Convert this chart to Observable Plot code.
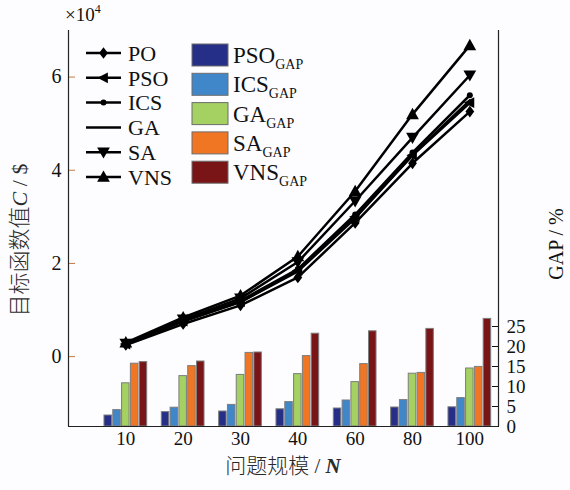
<!DOCTYPE html>
<html>
<head>
<meta charset="utf-8">
<script src="https://cdn.jsdelivr.net/npm/d3@7"></script>
<script src="https://cdn.jsdelivr.net/npm/@observablehq/plot@0.6"></script>
<style>
  html, body { margin: 0; padding: 0; background: #fdfdff; }
  #chart { width: 570px; height: 490px; }
</style>
</head>
<body>
<div id="chart"></div>
<script>
// ---- data ----
const sizes = ["10", "20", "30", "40", "60", "80", "100"];
const seriesNames = ["PO", "PSO", "ICS", "GA", "SA", "VNS"];
const PO  = [2500, 7000, 11000, 17000, 28700, 41500, 52600];
const PSO = [2700, 7600, 11800, 18500, 30000, 43200, 54500];
const ICS = [2800, 7800, 12000, 18800, 30500, 43800, 56100];
const GA  = [2700, 7600, 11700, 18300, 29700, 43300, 55000];
const SA  = [2800, 8000, 12500, 20300, 33400, 47000, 60400];
const VNS = [3000, 8400, 13100, 21500, 35500, 52000, 66800];

const gapNames = ["PSO", "ICS", "GA", "SA", "VNS"];
const PSO_GAP = [2.75, 3.6, 3.75, 4.3, 4.5, 4.75, 4.8];
const ICS_GAP = [4.1, 4.7, 5.4, 6.1, 6.5, 6.6, 7.1];
const GA_GAP  = [10.8, 12.6, 12.9, 13.1, 11.1, 13.2, 14.5];
const SA_GAP  = [15.7, 15.1, 18.4, 17.6, 15.6, 13.4, 14.9];
const VNS_GAP = [16.1, 16.25, 18.5, 23.2, 23.8, 24.4, 26.9];
const gapColors = ["#262f88", "#3f87c9", "#a5d062", "#f07623", "#7a1517"];

const leftTicks = [0, 20000, 40000, 60000];
const gapTicks = [0, 5, 10, 15, 20, 25];

// ---- scales set-up ----
const yMin = -15000, yMax = 70000, gapMax = 99;
const xMin = -1, xMax = 6.5;
const gapToY = g => yMin + g * (yMax - yMin) / gapMax;
const yToGap = y => Math.round((y - yMin) * gapMax / (yMax - yMin));

const lineSeries = [PO, PSO, ICS, GA, SA, VNS];
const lineData = [];
seriesNames.forEach((s, k) => lineSeries[k].forEach((v, i) => lineData.push({s, i, v})));

const gapSeries = [PSO_GAP, ICS_GAP, GA_GAP, SA_GAP, VNS_GAP];
const pitch = 0.1535, bw = 0.131;
const barData = [];
gapNames.forEach((s, j) => gapSeries[j].forEach((g, i) => barData.push({
  s, j, i, g,
  x1: i + (j - 2) * pitch - bw / 2,
  x2: i + (j - 2) * pitch + bw / 2
})));

// ---- custom symbols ----
function poly(pts) {
  return {draw(ctx, size) {
    const s = Math.sqrt(size);
    ctx.moveTo(pts[0][0] * s, pts[0][1] * s);
    for (let k = 1; k < pts.length; ++k) ctx.lineTo(pts[k][0] * s, pts[k][1] * s);
    ctx.closePath();
  }};
}
const symbols = {
  PO:  poly([[0, -0.6], [0.45, 0], [0, 0.6], [-0.45, 0]]),
  PSO: poly([[-0.62, 0], [0.45, -0.55], [0.45, 0.55]]),
  ICS: d3.symbolCircle,
  GA:  null,
  SA:  poly([[-0.6, -0.45], [0.6, -0.45], [0, 0.6]]),
  VNS: poly([[0, -0.62], [0.6, 0.45], [-0.6, 0.45]])
};
const symR = {PO: 5.5, PSO: 5.5, ICS: 3, SA: 6, VNS: 6};

const dotMarks = seriesNames.filter(s => symbols[s]).map(s =>
  Plot.dot(lineData.filter(d => d.s === s), {
    x: "i", y: "v", symbol: symbols[s], r: symR[s], fill: "black", stroke: "none"
  })
);

const plot = Plot.plot({
  width: 570,
  height: 490,
  marginLeft: 68,
  marginRight: 72,
  marginTop: 30,
  marginBottom: 64,
  style: {fontFamily: "'Liberation Serif', 'Noto Sans CJK SC', serif", fontSize: "19px", background: "#fdfdff", color: "#111"},
  x: {type: "linear", domain: [xMin, xMax], axis: null},
  y: {domain: [yMin, yMax], axis: null},
  marks: [
    Plot.rectY(barData, {
      x1: "x1", x2: "x2", y1: () => yMin, y2: d => gapToY(d.g),
      fill: d => gapColors[d.j], stroke: "#7d7d7d", strokeWidth: 1
    }),
    Plot.line(lineData, {x: "i", y: "v", z: "s", stroke: "black", strokeWidth: 2.5}),
    ...dotMarks,
    Plot.axisX({ticks: d3.range(sizes.length), tickFormat: i => sizes[i], tickSize: 0, tickPadding: 5, label: null, fontSize: 19}),
    Plot.axisY({ticks: leftTicks, tickFormat: d => d / 10000, tickSize: -7, tickPadding: 14, stroke: "#c87941", label: null, fontSize: 20}),
    Plot.axisY({anchor: "right", ticks: gapTicks.map(gapToY), tickFormat: yToGap, tickSize: -7, tickPadding: 15, label: null, fontSize: 19}),
    Plot.ruleX([xMin, xMax], {stroke: "#222", strokeWidth: 1.2}),
    Plot.ruleY([yMin], {stroke: "#222", strokeWidth: 1.2})
  ]
});

document.getElementById("chart").appendChild(plot);

// ---- legend and titles ----
const svg = d3.select(plot);
const serif = "'Liberation Serif', 'Noto Sans CJK SC', serif";

// ×10^4
const t10 = svg.append("text").attr("x", 65).attr("y", 21).attr("text-anchor", "start")
  .attr("font-family", serif).attr("font-size", 19).attr("fill", "#111");
t10.append("tspan").text("×10");
t10.append("tspan").attr("font-size", 12).attr("dy", -8).text("4");

// y label
const yl = svg.append("text").attr("transform", "translate(27,240) rotate(-90)")
  .attr("text-anchor", "middle").attr("font-family", serif).attr("font-size", 22).attr("fill", "#2a2a2a");
yl.append("tspan").attr("font-weight", 300).text("目标函数值");
yl.append("tspan").attr("font-style", "italic").text("C");
yl.append("tspan").text(" / $");

// right label
svg.append("text").attr("transform", "translate(563,244) rotate(-90)")
  .attr("text-anchor", "middle").attr("font-family", serif).attr("font-size", 20).attr("fill", "#111")
  .text("GAP / %");

// x label
const xl = svg.append("text").attr("x", 283).attr("y", 473)
  .attr("text-anchor", "middle").attr("font-family", serif).attr("font-size", 21).attr("fill", "#2a2a2a");
xl.append("tspan").attr("font-weight", 300).text("问题规模 / ");
xl.append("tspan").attr("font-style", "italic").attr("font-weight", "bold").text("N");

// line legend
const lg = svg.append("g").attr("text-anchor", "start");
seriesNames.forEach((s, k) => {
  const cy = 53 + k * 24.8;
  lg.append("line").attr("x1", 86).attr("x2", 121).attr("y1", cy).attr("y2", cy)
    .attr("stroke", "black").attr("stroke-width", 2.5);
  if (symbols[s]) {
    const r = symR[s];
    lg.append("path").attr("transform", `translate(103.5,${cy})`)
      .attr("d", d3.symbol(symbols[s], Math.PI * r * r)()).attr("fill", "black");
  }
  lg.append("text").attr("x", 128).attr("y", cy).attr("dy", "0.35em").attr("text-anchor", "start")
    .attr("font-family", serif).attr("font-size", 22).attr("fill", "#111").text(s);
});

// bar legend
gapNames.forEach((s, j) => {
  const top = 44 + j * 29.3;
  lg.append("rect").attr("x", 192).attr("y", top).attr("width", 36).attr("height", 22)
    .attr("fill", gapColors[j]).attr("stroke", "#6d6d6d").attr("stroke-width", 1);
  const t = lg.append("text").attr("x", 233).attr("y", top + 11).attr("dy", "0.35em").attr("text-anchor", "start")
    .attr("font-family", serif).attr("font-size", 23).attr("fill", "#111");
  t.append("tspan").text(s);
  t.append("tspan").attr("font-size", 14).attr("dy", 6).text("GAP");
});
</script>
</body>
</html>
